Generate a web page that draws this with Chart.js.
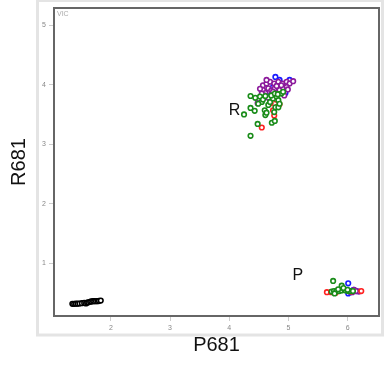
<!DOCTYPE html>
<html>
<head>
<meta charset="utf-8">
<script src="https://cdn.jsdelivr.net/npm/chart.js@4/dist/chart.umd.min.js"></script>
<style>
html,body{margin:0;padding:0;background:#fff;}
#c{display:block;}
</style>
</head>
<body>
<canvas id="c" width="384" height="369"></canvas>
<script>
// ---- data ----
const blackX = [1.35,1.38,1.41,1.44,1.47,1.51,1.55,1.58,1.60,1.62,1.65,1.67,1.70,1.72,1.75,1.78,1.80,1.83];
const blackY = [0.315,0.315,0.318,0.318,0.32,0.325,0.33,0.32,0.335,0.34,0.35,0.355,0.36,0.36,0.36,0.36,0.365,0.37];

const blueX = [4.78,4.85,5.02,4.95,4.74,4.82,4.66,6.01,6.01,6.15,6.05,6.10];
const blueY = [4.13,4.08,4.08,3.86,3.96,3.91,3.88,0.66,0.49,0.53,0.51,0.55];

const purpleX = [4.48,4.57,4.63,4.69,4.76,4.83,4.90,4.97,5.02,5.08,4.57,4.61,4.66,4.71,4.77,4.85,4.91,4.97,4.99,4.93,4.59,4.66,4.55,4.63,4.52,4.74,4.80,4.88,6.19,6.11,6.14,6.08];
const purpleY = [3.69,3.99,4.02,4.05,4.02,4.05,4.02,4.05,4.02,4.06,3.91,3.86,3.94,3.90,3.94,3.91,3.95,3.96,3.92,3.82,3.82,3.78,3.85,4.08,3.93,3.88,3.98,3.99,0.52,0.55,0.53,0.51];

const redX = [4.55,4.76,4.85,4.74,4.70,4.79,4.82,5.65,6.23,5.72,6.05,5.80];
const redY = [3.28,3.48,3.67,3.57,3.69,3.75,3.63,0.51,0.53,0.51,0.52,0.50];

const greenX = [4.36,4.48,4.25,4.72,4.77,4.36,4.36,4.43,4.44,4.52,4.55,4.49,4.60,4.61,4.63,4.66,4.69,4.74,4.80,4.83,4.88,4.91,4.76,4.78,4.83,4.57,4.61,4.71,4.77,4.82,4.85,
                5.755,5.73,5.77,5.81,5.86,5.90,5.94,5.97,6.01,6.05,6.09,5.90,5.78,5.84,5.93,6.00];
const greenY = [3.14,3.34,3.50,3.36,3.39,3.81,3.61,3.56,3.78,3.80,3.71,3.68,3.57,3.49,3.53,3.66,3.71,3.77,3.80,3.74,3.85,3.88,3.54,3.62,3.62,3.75,3.81,3.82,3.85,3.84,3.68,
                0.70,0.52,0.53,0.53,0.53,0.54,0.56,0.54,0.53,0.53,0.53,0.62,0.49,0.56,0.58,0.55];

const xTickLabels = ['2','3','4','5','6'];
const annLabels = ['R','P'];
const annX = [3.99,5.07];
const annY = [3.49,0.714];

const xTitle = 'P681';
const yTitle = 'R681';
const panelLabel = 'VIC';

// ---- helpers ----
function pts(xs, ys){ return xs.map((x,i)=>({x:x, y:ys[i]})); }
function ds(label, xs, ys, color, order){
  return {label, data: pts(xs, ys), borderColor: color, backgroundColor: '#ffffff',
          pointRadius: 2.3, pointBorderWidth: 1.6, pointHoverRadius: 2.3, order};
}

const framePlugin = {
  id: 'frame',
  beforeDraw(chart){
    const ctx = chart.ctx;
    ctx.save();
    ctx.fillStyle = '#ffffff';
    ctx.fillRect(0,0,chart.width,chart.height);
    ctx.strokeStyle = '#e4e4e4';
    ctx.lineWidth = 3;
    ctx.strokeRect(37.5, 0.5, 345, 334.5);
    ctx.restore();
  },
  afterDraw(chart){
    const ctx = chart.ctx, a = chart.chartArea;
    const xs = chart.scales.x, ys = chart.scales.y;
    ctx.save();
    ctx.strokeStyle = '#666666';
    ctx.lineWidth = 2;
    ctx.strokeRect(a.left, a.top, a.right - a.left, a.bottom - a.top);
    ctx.fillStyle = '#aaaaaa';
    ctx.font = '7px "Liberation Sans", Arial, sans-serif';
    ctx.textBaseline = 'middle';
    ctx.textAlign = 'left';
    ctx.fillText(panelLabel, a.left + 3, a.top + 6);
    ctx.fillStyle = '#111111';
    ctx.font = '16px "Liberation Sans", Arial, sans-serif';
    ctx.textBaseline = 'alphabetic';
    annLabels.forEach((t,i)=>{
      ctx.fillText(t, xs.getPixelForValue(annX[i]), ys.getPixelForValue(annY[i]));
    });
    ctx.restore();
  }
};

new Chart(document.getElementById('c'), {
  type: 'scatter',
  data: {
    datasets: [
      ds('Green', greenX, greenY, '#1a8c1a', 1),
      ds('Red', redX, redY, '#ff2020', 2),
      ds('Purple', purpleX, purpleY, '#8c1a9c', 3),
      ds('Blue', blueX, blueY, '#1a1aff', 4),
      ds('NTC', blackX, blackY, '#000000', 5)
    ]
  },
  options: {
    responsive: false,
    animation: false,
    events: [],
    layout: {padding: {top: 8, right: 5, left: 0, bottom: 0}},
    plugins: {legend: {display: false}, tooltip: {enabled: false}},
    scales: {
      x: {
        type: 'linear', position: 'bottom', min: 1.04, max: 6.53,
        afterFit(s){ s.height = 53; },
        ticks: {stepSize: 1, includeBounds: false, color: '#888888', padding: 3,
                font: {size: 7, family: '"Liberation Sans", Arial, sans-serif'},
                callback: (v)=> xTickLabels.includes(String(v)) ? String(v) : ''},
        grid: {drawOnChartArea: false, tickLength: 5, color: '#cccccc'},
        border: {display: false},
        title: {display: true, text: xTitle, color: '#111111', padding: {top: 0, bottom: 12},
                font: {size: 20, family: '"Liberation Sans", Arial, sans-serif'}}
      },
      y: {
        type: 'linear', position: 'left', min: 0.11, max: 5.29,
        afterFit(s){ s.width = 54; },
        ticks: {stepSize: 1, includeBounds: false, color: '#888888', padding: 3,
                font: {size: 7, family: '"Liberation Sans", Arial, sans-serif'}},
        grid: {drawOnChartArea: false, tickLength: 5, color: '#cccccc'},
        border: {display: false},
        title: {display: true, text: yTitle, color: '#111111', padding: {top: 7, bottom: 0},
                font: {size: 20, family: '"Liberation Sans", Arial, sans-serif'}}
      }
    }
  },
  plugins: [framePlugin]
});
</script>
</body>
</html>
